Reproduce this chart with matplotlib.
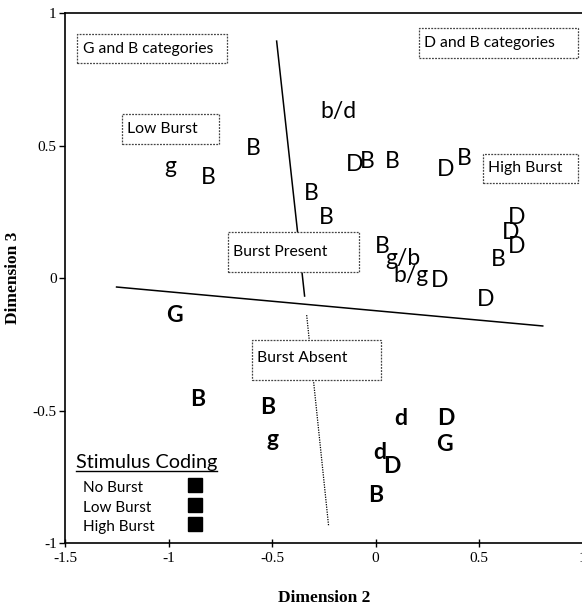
import matplotlib
matplotlib.use("Agg")
import matplotlib.pyplot as plt
from matplotlib.patches import Rectangle

# stimulus letters placed in the MDS space (Dimension 2 vs Dimension 3)
no_burst_labels = ["G", "B", "B", "g", "d", "D", "G", "d", "D", "B"]
no_burst_x = [-0.97, -0.86, -0.52, -0.50, 0.12, 0.34, 0.33, 0.02, 0.08, 0.00]
no_burst_y = [-0.14, -0.46, -0.49, -0.61, -0.53, -0.53, -0.63, -0.66, -0.71, -0.82]

low_burst_labels = ["g", "B", "B", "B", "B", "b/d", "B", "g/b", "b/g"]
low_burst_x = [-0.99, -0.81, -0.59, -0.31, -0.24, -0.18, 0.03, 0.13, 0.17]
low_burst_y = [0.42, 0.38, 0.49, 0.32, 0.23, 0.63, 0.12, 0.075, 0.01]

high_burst_labels = ["D", "B", "B", "D", "B", "D", "D", "D", "B", "D", "D"]
high_burst_x = [-0.10, -0.04, 0.08, 0.34, 0.43, 0.68, 0.65, 0.68, 0.59, 0.53, 0.31]
high_burst_y = [0.43, 0.44, 0.44, 0.41, 0.45, 0.23, 0.17, 0.12, 0.07, -0.08, -0.01]

# category boundaries
burst_line_x = [-1.251, 0.807]
burst_line_y = [-0.034, -0.181]
place_upper_x = [-0.478, -0.343]
place_upper_y = [0.894, -0.068]
place_lower_x = [-0.333, -0.227]
place_lower_y = [-0.14, -0.936]

# region labels: text, box (x0, y0, x1, y1), text anchor
region_text = ["G and B categories", "D and B categories", "Low Burst",
               "High Burst", "Burst Present", "Burst Absent"]
region_box = [(-1.440, 0.811, -0.720, 0.921), (0.208, 0.830, 0.976, 0.943),
              (-1.227, 0.506, -0.758, 0.619), (0.517, 0.358, 0.976, 0.468),
              (-0.715, 0.023, -0.082, 0.174), (-0.599, -0.385, 0.024, -0.234)]
region_pos = [(-1.415, 0.866), (0.232, 0.887), (-1.203, 0.562),
              (0.541, 0.415), (-0.691, 0.098), (-0.575, -0.302)]

legend_names = ["No Burst", "Low Burst", "High Burst"]

sans = ["Lato", "DejaVu Sans"]
serif = "Liberation Serif"

fig = plt.figure(figsize=(5.82, 6.08), dpi=100)
ax = fig.add_axes([0.1117, 0.1069, 0.8895, 0.8717])

for labels, xs, ys, w in [(no_burst_labels, no_burst_x, no_burst_y, "bold"),
                          (low_burst_labels, low_burst_x, low_burst_y, "normal"),
                          (high_burst_labels, high_burst_x, high_burst_y, "normal")]:
    for lab, x, y in zip(labels, xs, ys):
        ax.text(x, y, lab, family=sans, fontsize=16.5, fontweight=w,
                ha="center", va="center", color="black")

ax.plot(burst_line_x, burst_line_y, color="black", lw=1.1)
ax.plot(place_upper_x, place_upper_y, color="black", lw=1.1)
ax.plot(place_lower_x, place_lower_y, color="black", lw=0.9, ls=(0, (1, 1)))

for txt, box, pos in zip(region_text, region_box, region_pos):
    x0, y0, x1, y1 = box
    ax.add_patch(Rectangle((x0, y0), x1 - x0, y1 - y0, fill=True, facecolor="white",
                           edgecolor="#444444", lw=0.9, ls=(0, (1.5, 1)), zorder=3))
    ax.text(pos[0], pos[1], txt, family=sans, fontsize=11.3, ha="left", va="center",
            zorder=4)

# stimulus coding legend
ax.text(-1.449, -0.696, "Stimulus Coding", family=sans, fontsize=14.3,
        ha="left", va="center")
ax.plot([-1.449, -0.764], [-0.727, -0.727], color="black", lw=1.0)
leg_y = [-0.792, -0.868, -0.940]
for name, yy in zip(legend_names, leg_y):
    ax.text(-1.415, yy, name, family=sans, fontsize=11, ha="left", va="center")
    ax.plot([-0.874], [yy + 0.01], marker="s", ms=10, color="black", ls="none")

ax.set_xlim(-1.5, 1.0)
ax.set_ylim(-1.0, 1.0)
ax.set_xticks([-1.5, -1, -0.5, 0, 0.5, 1])
ax.set_xticklabels(["-1.5", "-1", "-0.5", "0", "0.5", "1"])
ax.set_yticks([-1, -0.5, 0, 0.5, 1])
ax.set_yticklabels(["-1", "-0.5", "0", "0.5", "1"])
for lab in ax.get_xticklabels() + ax.get_yticklabels():
    lab.set_family(serif)
    lab.set_fontsize(11)
ax.tick_params(axis="y", direction="out", length=4, width=1, pad=2)
ax.tick_params(axis="x", direction="inout", length=6, width=1)
ax.spines["right"].set_visible(False)
for s in ["left", "bottom", "top"]:
    ax.spines[s].set_linewidth(1.2)

ax.set_xlabel("Dimension 2", family=serif, fontweight="bold", fontsize=12.5, labelpad=18)
ax.set_ylabel("Dimension 3", family=serif, fontweight="bold", fontsize=12.5, labelpad=8)

fig.savefig("out.png", dpi=100)
